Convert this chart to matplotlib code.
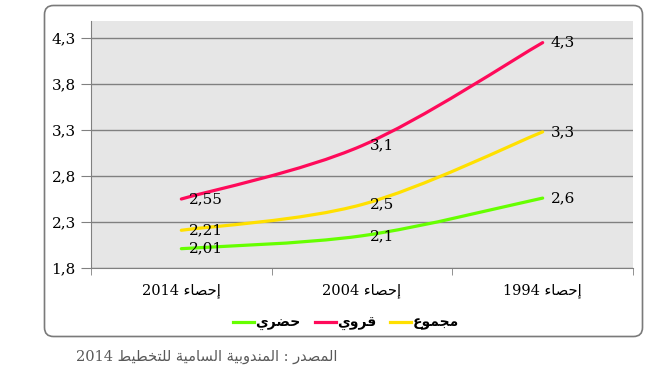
import re
import matplotlib as mpl
mpl.use('Agg')
import matplotlib.pyplot as plt
from matplotlib.path import Path
from matplotlib.patches import PathPatch, FancyBboxPatch
from matplotlib.lines import Line2D
from matplotlib.transforms import IdentityTransform

# data (positions, label texts as printed)
categories = ['إحصاء 2014', 'إحصاء 2004', 'إحصاء 1994']
series_names = ['حضري', 'قروي', 'مجموع']
urban = [2.01, 2.15, 2.56]
rural = [2.55, 3.13, 4.25]
total = [2.21, 2.49, 3.28]
urban_labels = ['2,01', '2,1', '2,6']
rural_labels = ['2,55', '3,1', '4,3']
total_labels = ['2,21', '2,5', '3,3']
yticks = [1.8, 2.3, 2.8, 3.3, 3.8, 4.3]
source = 'المصدر : المندوبية السامية للتخطيط 2014'

colors = ['#66FF00', '#FF0A5A', '#FFE000']

# arabic presentation forms: isolated, final, initial, medial
FORMS = {
    'ا': ('\uFE8D', '\uFE8E', None, None),
    'إ': ('\uFE87', '\uFE88', None, None),
    'ء': ('\uFE80', None, None, None),
    'د': ('\uFEA9', '\uFEAA', None, None),
    'ر': ('\uFEAD', '\uFEAE', None, None),
    'و': ('\uFEED', '\uFEEE', None, None),
    'ة': ('\uFE93', '\uFE94', None, None),
    'ب': ('\uFE8F', '\uFE90', '\uFE91', '\uFE92'),
    'ت': ('\uFE95', '\uFE96', '\uFE97', '\uFE98'),
    'ج': ('\uFE9D', '\uFE9E', '\uFE9F', '\uFEA0'),
    'ح': ('\uFEA1', '\uFEA2', '\uFEA3', '\uFEA4'),
    'خ': ('\uFEA5', '\uFEA6', '\uFEA7', '\uFEA8'),
    'س': ('\uFEB1', '\uFEB2', '\uFEB3', '\uFEB4'),
    'ص': ('\uFEB9', '\uFEBA', '\uFEBB', '\uFEBC'),
    'ض': ('\uFEBD', '\uFEBE', '\uFEBF', '\uFEC0'),
    'ط': ('\uFEC1', '\uFEC2', '\uFEC3', '\uFEC4'),
    'ع': ('\uFEC9', '\uFECA', '\uFECB', '\uFECC'),
    'ق': ('\uFED5', '\uFED6', '\uFED7', '\uFED8'),
    'ل': ('\uFEDD', '\uFEDE', '\uFEDF', '\uFEE0'),
    'م': ('\uFEE1', '\uFEE2', '\uFEE3', '\uFEE4'),
    'ن': ('\uFEE5', '\uFEE6', '\uFEE7', '\uFEE8'),
    'ي': ('\uFEF1', '\uFEF2', '\uFEF3', '\uFEF4'),
}


def ar(text):
    # shape arabic letters and put the string in visual order
    out = []
    for i, c in enumerate(text):
        if c not in FORMS:
            out.append(c)
            continue
        prev = text[i - 1] if i > 0 else ''
        nxt = text[i + 1] if i + 1 < len(text) else ''
        jp = prev in FORMS and FORMS[prev][2] is not None and FORMS[c][1] is not None
        jn = FORMS[c][2] is not None and nxt in FORMS and FORMS[nxt][1] is not None
        if jp and jn:
            out.append(FORMS[c][3])
        elif jp:
            out.append(FORMS[c][1])
        elif jn:
            out.append(FORMS[c][2])
        else:
            out.append(FORMS[c][0])
    s = ''.join(out)[::-1]
    return re.sub(r'\d+', lambda m: m.group()[::-1], s)


def smooth_path(xs, ys):
    # excel-like smoothed line through the points (catmull-rom -> bezier)
    pts = list(zip(xs, ys))
    verts = [pts[0]]
    codes = [Path.MOVETO]
    n = len(pts)
    for i in range(n - 1):
        p0 = pts[i - 1] if i > 0 else pts[i]
        p1 = pts[i]
        p2 = pts[i + 1]
        p3 = pts[i + 2] if i + 2 < n else pts[i + 1]
        c1 = (p1[0] + (p2[0] - p0[0]) / 6, p1[1] + (p2[1] - p0[1]) / 6)
        c2 = (p2[0] - (p3[0] - p1[0]) / 6, p2[1] - (p3[1] - p1[1]) / 6)
        verts += [c1, c2, p2]
        codes += [Path.CURVE4] * 3
    return Path(verts, codes)


fam = ['DejaVu Serif', 'DejaVu Sans']
arfam = ['DejaVu Sans']
grid_c = '#808080'

fig = plt.figure(figsize=(6.45, 3.75), dpi=100)
box = FancyBboxPatch((44.5, 38.5), 598, 331,
                     boxstyle='round,pad=0,rounding_size=9',
                     transform=IdentityTransform(),
                     facecolor='white', edgecolor='#7a7a7a', lw=1.2, zorder=-1)
fig.patches.append(box)

ax = fig.add_axes([91 / 645, 1 - 268 / 375, 542 / 645, 247 / 375])
ax.set_facecolor('#E6E6E6')
ax.set_xlim(-0.5, 2.5)
ax.set_ylim(1.8, 4.485)

xs = list(range(len(categories)))
for vals, labs, col in zip([urban, rural, total],
                           [urban_labels, rural_labels, total_labels], colors):
    ax.add_patch(PathPatch(smooth_path(xs, vals), facecolor='none',
                           edgecolor=col, lw=2.3, capstyle='round', zorder=3))
    for x, v, lab in zip(xs, vals, labs):
        ax.annotate(lab, (x, v), xytext=(8, 0),
                    textcoords='offset pixels', ha='left', va='center',
                    fontsize=11, family=fam, zorder=4)

ax.set_yticks(yticks)
ax.set_yticklabels([f'{t:g}'.replace('.', ',') for t in yticks], family=fam, fontsize=11)
ax.yaxis.grid(True, color=grid_c, lw=1)
ax.set_axisbelow(True)
ax.tick_params(axis='y', direction='out', length=7, color=grid_c, pad=4)

ax.set_xticks(xs)
ax.set_xticklabels([ar(c) for c in categories], family=fam, fontsize=10.5)
ax.set_xticks([-0.5, 0.5, 1.5, 2.5], minor=True)
ax.tick_params(axis='x', which='major', length=0, pad=11)
ax.tick_params(axis='x', which='minor', direction='out', length=5, color=grid_c)

for s in ['top', 'right']:
    ax.spines[s].set_visible(False)
for s in ['left', 'bottom']:
    ax.spines[s].set_color(grid_c)

handles = [Line2D([], [], color=c, lw=2.3) for c in colors]
fig.legend(handles, [ar(n) for n in series_names], loc='center',
           bbox_to_anchor=(346 / 645, 1 - 323 / 375), ncol=3, frameon=False,
           prop={'family': arfam, 'size': 10, 'weight': 'bold'}, handlelength=1.5,
           handletextpad=0.1, columnspacing=1.0)

fig.text(337 / 645, 1 - 357 / 375, ar(source), ha='right', va='center',
         family=fam, fontsize=10.5, color='#595959')

fig.savefig('out.png', dpi=100)
